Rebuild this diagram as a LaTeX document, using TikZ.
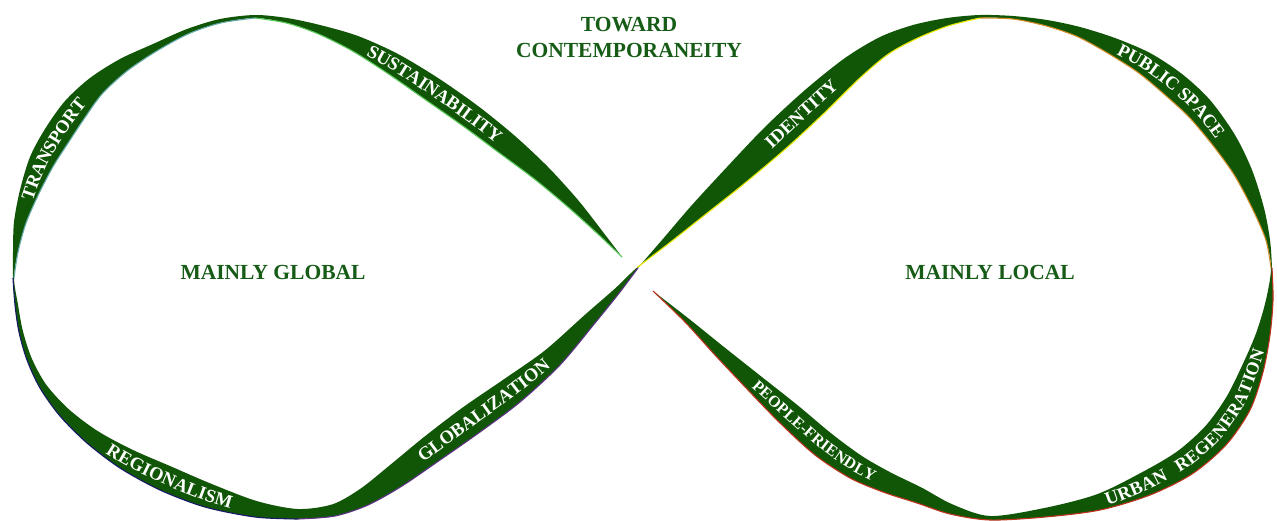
\documentclass[tikz,border=0pt]{standalone}
\usepackage{fontspec}
\setmainfont{Liberation Serif}
\usetikzlibrary{calc,decorations.text}
\definecolor{rib}{RGB}{16,86,6}
\definecolor{labgreen}{RGB}{22,92,22}
\definecolor{elgreen}{RGB}{90,200,90}
\definecolor{elteal}{RGB}{100,170,170}
\definecolor{elnavy}{RGB}{25,25,105}
\definecolor{elpurple}{RGB}{95,50,135}
\definecolor{elyellow}{RGB}{230,230,0}
\definecolor{elorange}{RGB}{210,140,40}
\definecolor{elred}{RGB}{190,50,30}
\newcommand{\ribfontA}{\bfseries\fontsize{18.5}{18.5}\selectfont\color{white}}
\newcommand{\ribfontB}{\bfseries\fontsize{16}{16}\selectfont\color{white}}
\newcommand{\ribfontC}{\bfseries\fontsize{18}{18}\selectfont\color{white}}
\def\ribdata{1/622/257/0/90, 2/603/232/5/90, 3/578/200/12/90, 4/548/167/18/90,
5/515/136/23/90, 6/478/106/25/90, 7/438/78/25/90, 8/398/54/22/90, 9/358/36/16/90,
10/320/25/9/90, 11/287/18/5/90, 12/255/15/3/90, 13/220/19/4/90, 14/187/29/5/90,
15/153/44/8/90, 16/120/59/14/90, 17/90/78/20/90, 18/65/101/26/90, 19/45/129/27/90,
20/30/157/25/90, 21/20/190/19/90, 22/14/222/12/90, 23/13/252/5/90, 24/13/278/1/90,
25/15/305/3/90, 26/19/332/4/90, 27/27/360/5/90, 28/40/388/7/90, 29/60/416/11/90,
30/87/443/16/90, 31/120/468/22/90, 32/160/490/26/90, 33/205/507/24/90, 34/255/517/16/90,
35/298/519/10/90, 36/335/516/12/90, 37/368/505/18/90, 38/402/486/24/90, 39/440/460/28/90,
40/480/432/30/90, 41/520/402/28/90, 42/560/365/21/90, 43/595/323/13/90, 44/620/292/6/90,
45/638/268/1/90, 46/662/240/7/-90, 47/692/205/16/-90, 48/727/167/24/-90, 49/765/127/30/-90,
50/805/90/30/-90, 51/845/58/25/-90, 52/880/37/19/-90, 53/913/25/14/-90, 54/947/18/8/-90,
55/980/15/3/-90, 56/1013/16/3/-90, 57/1047/20/6/-90, 58/1080/27/10/-90, 59/1115/38/17/-90,
60/1150/53/23/-90, 61/1182/74/27/-90, 62/1210/100/27/-90, 63/1235/135/24/-90, 64/1252/170/18/-90,
65/1264/208/11/-90, 66/1270/240/4/-90, 67/1272/268/1/-90, 68/1273/300/7/-90, 69/1270/335/14/-90,
70/1263/372/22/-90, 71/1250/410/27/-90, 72/1226/445/28/-90, 73/1192/474/27/-90, 74/1150/495/24/-90,
75/1100/510/16/-90, 76/1045/517/9/-90, 77/990/520/4/-90, 78/950/514/10/-90, 79/917/503/16/-90,
80/883/492/21/-90, 81/850/478/25/-90, 82/815/455/27/-90, 83/780/423/25/-90, 84/748/390/19/-90,
85/715/355/12/-90, 86/685/322/5/-90, 87/653/291/0/-90}
\tikzset{
  edge/.style={line width=1.1pt},
  big/.style={font=\bfseries\fontsize{21.5}{26}\selectfont, text=labgreen, inner sep=0pt, align=center},
  ribtext/.style n args={4}{decorate, decoration={text along path, raise=#2, text align=#3, text={|#1|#4}}},
}
\begin{document}
\begin{tikzpicture}[x=1pt,y=-1pt]
\fill[white] (0,0) rectangle (1277,520);
\useasboundingbox (0,0) rectangle (1277,520);
% outer edge points
\foreach \i/\x/\y/\w/\a in \ribdata { \coordinate (o\i) at (\x,\y); }
% tangent helpers
\foreach \i/\x/\y/\w/\a in \ribdata {
  \pgfmathtruncatemacro{\j}{min(\i+1,87)}
  \pgfmathtruncatemacro{\k}{max(\i-1,1)}
  \coordinate (d\i) at ($(o\i)+(o\j)-(o\k)$);
}
% inner edge points and band centres
\foreach \i/\x/\y/\w/\a in \ribdata {
  \coordinate (i\i) at ($(o\i)!\w pt!\a:(d\i)$);
  \coordinate (c\i) at ($(o\i)!0.5!(i\i)$);
}
% ribbon
\fill[rib] plot[smooth] coordinates {(o1)(o2)(o3)(o4)(o5)(o6)(o7)(o8)(o9)(o10)(o11)(o12)(o13)(o14)(o15)(o16)(o17)(o18)(o19)(o20)(o21)(o22)(o23)(o24)(o25)(o26)(o27)(o28)(o29)(o30)(o31)(o32)(o33)(o34)(o35)(o36)(o37)(o38)(o39)(o40)(o41)(o42)(o43)(o44)(o45)(o46)(o47)(o48)(o49)(o50)(o51)(o52)(o53)(o54)(o55)(o56)(o57)(o58)(o59)(o60)(o61)(o62)(o63)(o64)(o65)(o66)(o67)(o68)(o69)(o70)(o71)(o72)(o73)(o74)(o75)(o76)(o77)(o78)(o79)(o80)(o81)(o82)(o83)(o84)(o85)(o86)(o87)}
  -- plot[smooth] coordinates {(i87)(i86)(i85)(i84)(i83)(i82)(i81)(i80)(i79)(i78)(i77)(i76)(i75)(i74)(i73)(i72)(i71)(i70)(i69)(i68)(i67)(i66)(i65)(i64)(i63)(i62)(i61)(i60)(i59)(i58)(i57)(i56)(i55)(i54)(i53)(i52)(i51)(i50)(i49)(i48)(i47)(i46)(i45)(i44)(i43)(i42)(i41)(i40)(i39)(i38)(i37)(i36)(i35)(i34)(i33)(i32)(i31)(i30)(i29)(i28)(i27)(i26)(i25)(i24)(i23)(i22)(i21)(i20)(i19)(i18)(i17)(i16)(i15)(i14)(i13)(i12)(i11)(i10)(i9)(i8)(i7)(i6)(i5)(i4)(i3)(i2)(i1)} -- cycle;
% coloured edge lines
\draw[edge, elgreen] plot[smooth] coordinates {(i1)(i2)(i3)(i4)(i5)(i6)(i7)(i8)(i9)(i10)(i11)(i12)};
\draw[edge, elteal] plot[smooth] coordinates {(i12)(i13)(i14)(i15)(i16)(i17)(i18)(i19)(i20)(i21)(i22)(i23)(i24)};
\draw[edge, elnavy] plot[smooth] coordinates {(o24)(o25)(o26)(o27)(o28)(o29)(o30)(o31)(o32)(o33)(o34)(o35)};
\draw[edge, elpurple] plot[smooth] coordinates {(o35)(o36)(o37)(o38)(o39)(o40)(o41)(o42)(o43)(o44)(o45)};
\draw[edge, elyellow] plot[smooth] coordinates {(i45)(i46)(i47)(i48)(i49)(i50)(i51)(i52)(i53)(i54)(i55)};
\draw[edge, elorange] plot[smooth] coordinates {(i55)(i56)(i57)(i58)(i59)(i60)(i61)(i62)(i63)(i64)(i65)(i66)(i67)};
\draw[edge, elred] plot[smooth] coordinates {(o67)(o68)(o69)(o70)(o71)(o72)(o73)(o74)(o75)(o76)(o77)(o78)(o79)(o80)(o81)(o82)(o83)(o84)(o85)(o86)(o87)};
% ribbon labels along the band centre
\path[ribtext={\ribfontA}{-6.1pt}{center}{SUSTAINABILITY}] plot[smooth] coordinates {(c10)(c9)(c8)(c7)(c6)(c5)(c4)};
\path[ribtext={\ribfontA}{-6.1pt}{center}{TRANSPORT}] plot[smooth] coordinates {(c23)(c22)(c21)(c20)(c19)(c18)(c17)(c16)};
\path[ribtext={\ribfontA}{-6.1pt}{{left, left indent=57pt}}{REGIONALISM}] plot[smooth] coordinates {(c29)(c30)(c31)(c32)(c33)(c34)(c35)(c36)};
\path[ribtext={\ribfontA}{-6.1pt}{center}{GLOBALIZATION}] plot[smooth] coordinates {(c36)(c37)(c38)(c39)(c40)(c41)(c42)(c43)(c44)};
\path[ribtext={\ribfontA}{-6.1pt}{center}{IDENTITY}] plot[smooth] coordinates {(c47)(c48)(c49)(c50)(c51)(c52)(c53)};
\path[ribtext={\ribfontA}{-6.1pt}{center}{PUBLIC SPACE}] plot[smooth] coordinates {(c58)(c59)(c60)(c61)(c62)(c63)(c64)};
\path[ribtext={\ribfontB}{-5.3pt}{center}{PEOPLE-FRIENDLY}] plot[smooth] coordinates {(c85)(c84)(c83)(c82)(c81)(c80)(c79)};
\path[ribtext={\ribfontA}{-6.1pt}{{left, left indent=117pt}}{URBAN}] plot[smooth] coordinates {(c77)(c76)(c75)(c74)(c73)(c72)(c71)(c70)(c69)(c68)(c67)};
\path[ribtext={\ribfontC}{-5.9pt}{{left, left indent=195pt}}{REGENERATION}] plot[smooth] coordinates {(c77)(c76)(c75)(c74)(c73)(c72)(c71)(c70)(c69)(c68)(c67)};
% central labels
\node[big] (tow) at (629,37) {TOWARD\\CONTEMPORANEITY};
\node[big] (glob) at (273,272) {MAINLY GLOBAL};
\node[big] (loc) at (990,272) {MAINLY LOCAL};
\end{tikzpicture}
\end{document}
